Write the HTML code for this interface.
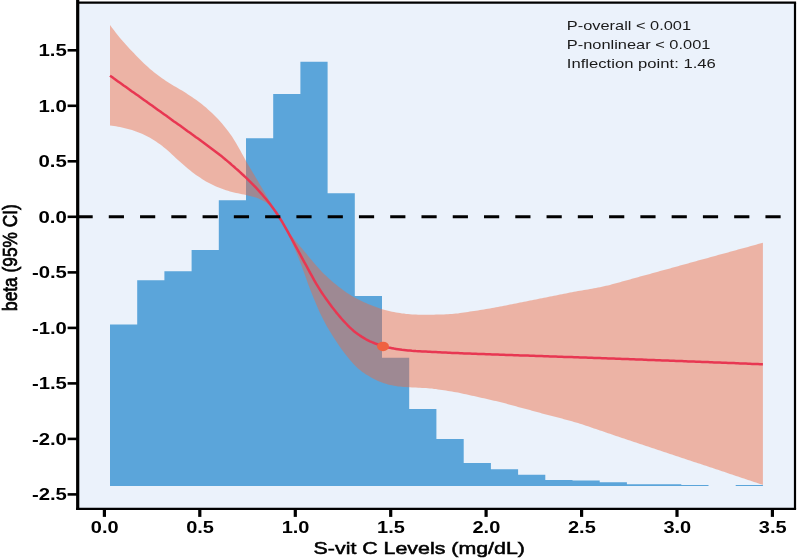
<!DOCTYPE html>
<html lang="en">
<head>
<meta charset="utf-8">
<title>S-vit C Levels vs beta (95% CI)</title>
<style>
html,body{margin:0;padding:0;background:#fff;}
body{width:797px;height:558px;overflow:hidden;}
svg{display:block;will-change:transform;}
</style>
</head>
<body>
<svg width="797" height="558" viewBox="0 0 797 558">
<rect x="0" y="0" width="797" height="558" fill="#ffffff"/>
<rect x="77.7" y="2.65" width="717.30" height="506.20" fill="#ebf2fb"/>
<path d="M110.0,485.9 L110.0,324.6 L137.2,324.6 L137.2,280.2 L164.4,280.2 L164.4,271.2 L191.6,271.2 L191.6,250.1 L218.8,250.1 L218.8,200.2 L246.0,200.2 L246.0,138.3 L273.2,138.3 L273.2,93.9 L300.4,93.9 L300.4,61.8 L327.6,61.8 L327.6,193.2 L354.8,193.2 L354.8,296.1 L382.0,296.1 L382.0,357.8 L409.2,357.8 L409.2,408.9 L436.4,408.9 L436.4,439.0 L463.7,439.0 L463.7,462.9 L490.9,462.9 L490.9,469.2 L518.1,469.2 L518.1,474.7 L545.3,474.7 L545.3,480.0 L572.5,480.0 L572.5,480.4 L599.7,480.4 L599.7,482.3 L626.9,482.3 L626.9,484.3 L654.1,484.3 L654.1,484.3 L681.3,484.3 L681.3,485.0 L708.5,485.0 L708.5,485.9 L735.7,485.9 L735.7,484.9 L762.9,484.9 L762.9,485.9 Z" fill="#5ba5da"/>
<polygon points="110.0,25.1 112.0,27.7 114.0,30.3 116.0,32.9 118.0,35.4 120.0,37.9 122.0,40.2 124.0,42.6 126.0,44.8 128.0,47.0 130.0,49.2 132.0,51.3 134.0,53.3 136.0,55.4 138.0,57.4 140.0,59.4 142.0,61.4 144.0,63.4 146.0,65.3 148.0,67.1 150.0,68.9 152.0,70.6 154.0,72.2 156.0,73.8 158.0,75.3 160.0,76.7 162.0,78.2 164.0,79.5 166.0,80.9 168.0,82.2 170.0,83.5 172.0,84.7 174.0,85.9 176.0,87.1 178.0,88.2 180.0,89.4 182.0,90.6 184.0,91.8 186.0,93.1 188.0,94.4 190.0,95.7 192.0,97.0 194.0,98.4 196.0,99.8 198.0,101.3 200.0,102.8 202.0,104.3 204.0,105.9 206.0,107.6 208.0,109.4 210.0,111.2 212.0,113.0 214.0,115.0 216.0,117.0 218.0,119.1 220.0,121.3 222.0,123.5 224.0,125.9 226.0,128.4 228.0,131.0 230.0,133.7 232.0,136.6 234.0,139.7 236.0,143.0 238.0,146.5 240.0,150.1 242.0,153.7 244.0,157.3 246.0,160.9 248.0,164.4 250.0,167.8 252.0,171.2 254.0,174.6 256.0,177.9 258.0,181.3 260.0,184.7 262.0,188.1 264.0,191.6 266.0,195.0 268.0,198.4 270.0,201.8 272.0,205.0 274.0,208.2 276.0,211.4 278.0,214.6 280.0,217.9 282.0,221.2 284.0,224.5 286.0,227.7 288.0,230.8 290.0,233.7 292.0,236.4 294.0,239.0 296.0,241.4 298.0,243.8 300.0,246.2 302.0,248.5 304.0,250.9 306.0,253.3 308.0,255.8 310.0,258.2 312.0,260.6 314.0,262.9 316.0,265.3 318.0,267.6 320.0,269.8 322.0,271.9 324.0,273.9 326.0,275.8 328.0,277.7 330.0,279.5 332.0,281.2 334.0,282.9 336.0,284.6 338.0,286.2 340.0,287.8 342.0,289.3 344.0,290.8 346.0,292.2 348.0,293.5 350.0,294.8 352.0,296.0 354.0,297.2 356.0,298.3 358.0,299.3 360.0,300.3 362.0,301.3 364.0,302.2 366.0,303.1 368.0,303.9 370.0,304.7 372.0,305.5 374.0,306.3 376.0,307.1 378.0,307.8 380.0,308.5 382.0,309.2 384.0,309.8 386.0,310.3 388.0,310.8 390.0,311.2 392.0,311.7 394.0,312.0 396.0,312.4 398.0,312.7 400.0,313.0 402.0,313.4 404.0,313.6 406.0,313.9 408.0,314.1 410.0,314.3 412.0,314.4 414.0,314.5 416.0,314.6 418.0,314.7 420.0,314.7 422.0,314.8 424.0,314.8 426.0,314.8 428.0,314.8 430.0,314.8 432.0,314.7 434.0,314.7 436.0,314.6 438.0,314.6 440.0,314.5 442.0,314.4 444.0,314.4 446.0,314.3 448.0,314.2 450.0,314.1 452.0,313.9 454.0,313.8 456.0,313.6 458.0,313.4 460.0,313.1 462.0,312.8 464.0,312.6 466.0,312.3 468.0,311.9 470.0,311.6 472.0,311.3 474.0,311.0 476.0,310.7 478.0,310.4 480.0,310.1 482.0,309.7 484.0,309.4 486.0,309.1 488.0,308.7 490.0,308.4 492.0,308.0 494.0,307.7 496.0,307.3 498.0,306.9 500.0,306.6 502.0,306.2 504.0,305.8 506.0,305.4 508.0,305.0 510.0,304.6 512.0,304.2 514.0,303.8 516.0,303.4 518.0,303.0 520.0,302.6 522.0,302.2 524.0,301.8 526.0,301.4 528.0,301.0 530.0,300.6 532.0,300.2 534.0,299.8 536.0,299.4 538.0,299.0 540.0,298.6 542.0,298.2 544.0,297.8 546.0,297.4 548.0,297.0 550.0,296.6 552.0,296.2 554.0,295.8 556.0,295.4 558.0,295.0 560.0,294.6 562.0,294.2 564.0,293.8 566.0,293.4 568.0,293.0 570.0,292.6 572.0,292.2 574.0,291.8 576.0,291.5 578.0,291.1 580.0,290.7 582.0,290.4 584.0,290.1 586.0,289.7 588.0,289.4 590.0,289.0 592.0,288.7 594.0,288.3 596.0,288.0 598.0,287.6 600.0,287.2 602.0,286.7 604.0,286.3 606.0,285.8 608.0,285.4 610.0,284.9 612.0,284.3 614.0,283.8 616.0,283.3 618.0,282.7 620.0,282.2 622.0,281.6 624.0,281.1 626.0,280.5 628.0,279.9 630.0,279.4 632.0,278.8 634.0,278.3 636.0,277.7 638.0,277.2 640.0,276.6 642.0,276.1 644.0,275.5 646.0,275.0 648.0,274.4 650.0,273.9 652.0,273.3 654.0,272.8 656.0,272.2 658.0,271.7 660.0,271.1 662.0,270.6 664.0,270.0 666.0,269.5 668.0,268.9 670.0,268.4 672.0,267.8 674.0,267.3 676.0,266.7 678.0,266.2 680.0,265.6 682.0,265.1 684.0,264.5 686.0,263.9 688.0,263.4 690.0,262.8 692.0,262.3 694.0,261.7 696.0,261.2 698.0,260.6 700.0,260.1 702.0,259.5 704.0,259.0 706.0,258.4 708.0,257.9 710.0,257.3 712.0,256.8 714.0,256.2 716.0,255.7 718.0,255.1 720.0,254.6 722.0,254.0 724.0,253.5 726.0,252.9 728.0,252.4 730.0,251.8 732.0,251.3 734.0,250.7 736.0,250.2 738.0,249.6 740.0,249.1 742.0,248.5 744.0,248.0 746.0,247.4 748.0,246.9 750.0,246.3 752.0,245.8 754.0,245.2 756.0,244.7 758.0,244.1 760.0,243.6 762.0,243.0 762.9,242.8 762.9,484.9 762.0,484.6 760.0,483.9 758.0,483.3 756.0,482.6 754.0,481.9 752.0,481.3 750.0,480.6 748.0,479.9 746.0,479.3 744.0,478.6 742.0,477.9 740.0,477.2 738.0,476.6 736.0,475.9 734.0,475.2 732.0,474.5 730.0,473.9 728.0,473.2 726.0,472.5 724.0,471.8 722.0,471.2 720.0,470.5 718.0,469.8 716.0,469.2 714.0,468.5 712.0,467.8 710.0,467.2 708.0,466.5 706.0,465.8 704.0,465.2 702.0,464.5 700.0,463.8 698.0,463.2 696.0,462.5 694.0,461.9 692.0,461.2 690.0,460.5 688.0,459.9 686.0,459.2 684.0,458.5 682.0,457.9 680.0,457.2 678.0,456.5 676.0,455.9 674.0,455.2 672.0,454.5 670.0,453.9 668.0,453.2 666.0,452.5 664.0,451.9 662.0,451.2 660.0,450.5 658.0,449.9 656.0,449.2 654.0,448.5 652.0,447.9 650.0,447.2 648.0,446.5 646.0,445.9 644.0,445.2 642.0,444.5 640.0,443.9 638.0,443.2 636.0,442.6 634.0,441.9 632.0,441.2 630.0,440.6 628.0,439.9 626.0,439.3 624.0,438.6 622.0,437.9 620.0,437.2 618.0,436.6 616.0,435.9 614.0,435.2 612.0,434.5 610.0,433.8 608.0,433.2 606.0,432.5 604.0,431.8 602.0,431.1 600.0,430.4 598.0,429.7 596.0,429.0 594.0,428.4 592.0,427.7 590.0,427.0 588.0,426.3 586.0,425.7 584.0,425.0 582.0,424.3 580.0,423.7 578.0,423.1 576.0,422.5 574.0,421.9 572.0,421.3 570.0,420.8 568.0,420.2 566.0,419.7 564.0,419.2 562.0,418.6 560.0,418.1 558.0,417.6 556.0,417.1 554.0,416.6 552.0,416.1 550.0,415.5 548.0,415.0 546.0,414.5 544.0,413.9 542.0,413.4 540.0,412.8 538.0,412.3 536.0,411.7 534.0,411.2 532.0,410.7 530.0,410.1 528.0,409.6 526.0,409.0 524.0,408.5 522.0,408.0 520.0,407.4 518.0,406.9 516.0,406.3 514.0,405.8 512.0,405.2 510.0,404.7 508.0,404.2 506.0,403.6 504.0,403.1 502.0,402.6 500.0,402.1 498.0,401.6 496.0,401.1 494.0,400.7 492.0,400.2 490.0,399.7 488.0,399.2 486.0,398.8 484.0,398.3 482.0,397.9 480.0,397.4 478.0,397.0 476.0,396.6 474.0,396.1 472.0,395.7 470.0,395.2 468.0,394.8 466.0,394.3 464.0,393.9 462.0,393.5 460.0,393.0 458.0,392.6 456.0,392.2 454.0,391.9 452.0,391.5 450.0,391.2 448.0,390.9 446.0,390.5 444.0,390.2 442.0,389.9 440.0,389.7 438.0,389.4 436.0,389.1 434.0,388.9 432.0,388.6 430.0,388.4 428.0,388.3 426.0,388.1 424.0,388.0 422.0,387.9 420.0,387.8 418.0,387.7 416.0,387.6 414.0,387.5 412.0,387.4 410.0,387.3 408.0,387.2 406.0,387.1 404.0,386.9 402.0,386.8 400.0,386.6 398.0,386.4 396.0,386.1 394.0,385.7 392.0,385.3 390.0,384.9 388.0,384.4 386.0,383.8 384.0,383.2 382.0,382.5 380.0,381.8 378.0,380.9 376.0,379.9 374.0,378.9 372.0,377.9 370.0,376.8 368.0,375.6 366.0,374.4 364.0,373.1 362.0,371.7 360.0,370.1 358.0,368.4 356.0,366.5 354.0,364.4 352.0,362.3 350.0,360.0 348.0,357.5 346.0,355.0 344.0,352.4 342.0,349.7 340.0,346.9 338.0,344.0 336.0,341.0 334.0,338.0 332.0,334.8 330.0,331.5 328.0,328.2 326.0,324.7 324.0,321.1 322.0,317.1 320.0,312.9 318.0,308.4 316.0,303.7 314.0,298.9 312.0,294.1 310.0,289.0 308.0,283.7 306.0,278.1 304.0,272.4 302.0,266.9 300.0,261.7 298.0,256.7 296.0,251.8 294.0,247.2 292.0,242.7 290.0,238.3 288.0,234.2 286.0,230.2 284.0,226.3 282.0,222.6 280.0,219.1 278.0,215.7 276.0,212.6 274.0,209.9 272.0,207.5 270.0,205.6 268.0,204.0 266.0,202.6 264.0,201.3 262.0,200.2 260.0,199.2 258.0,198.3 256.0,197.6 254.0,197.0 252.0,196.4 250.0,195.9 248.0,195.5 246.0,195.0 244.0,194.6 242.0,194.2 240.0,193.7 238.0,193.3 236.0,192.9 234.0,192.4 232.0,191.9 230.0,191.4 228.0,190.8 226.0,190.2 224.0,189.5 222.0,188.8 220.0,188.1 218.0,187.3 216.0,186.4 214.0,185.5 212.0,184.6 210.0,183.6 208.0,182.5 206.0,181.4 204.0,180.2 202.0,178.9 200.0,177.6 198.0,176.3 196.0,174.9 194.0,173.4 192.0,171.9 190.0,170.3 188.0,168.7 186.0,167.0 184.0,165.2 182.0,163.5 180.0,161.7 178.0,160.0 176.0,158.2 174.0,156.3 172.0,154.5 170.0,152.6 168.0,150.8 166.0,149.0 164.0,147.4 162.0,145.8 160.0,144.3 158.0,142.9 156.0,141.5 154.0,140.2 152.0,139.0 150.0,137.8 148.0,136.7 146.0,135.7 144.0,134.7 142.0,133.8 140.0,133.0 138.0,132.2 136.0,131.4 134.0,130.7 132.0,130.0 130.0,129.4 128.0,128.9 126.0,128.4 124.0,127.9 122.0,127.5 120.0,127.1 118.0,126.7 116.0,126.3 114.0,126.0 112.0,125.8 110.0,125.5" fill="rgb(237,105,64)" fill-opacity="0.46"/>
<polyline points="110.0,75.7 112.0,77.1 114.0,78.6 116.0,80.0 118.0,81.4 120.0,82.8 122.0,84.2 124.0,85.7 126.0,87.1 128.0,88.5 130.0,89.9 132.0,91.4 134.0,92.8 136.0,94.2 138.0,95.6 140.0,97.1 142.0,98.5 144.0,99.9 146.0,101.3 148.0,102.8 150.0,104.2 152.0,105.6 154.0,107.1 156.0,108.5 158.0,109.9 160.0,111.3 162.0,112.8 164.0,114.2 166.0,115.6 168.0,117.1 170.0,118.5 172.0,119.9 174.0,121.4 176.0,122.8 178.0,124.2 180.0,125.6 182.0,127.1 184.0,128.5 186.0,129.9 188.0,131.4 190.0,132.8 192.0,134.3 194.0,135.7 196.0,137.2 198.0,138.6 200.0,140.1 202.0,141.6 204.0,143.0 206.0,144.5 208.0,146.0 210.0,147.5 212.0,149.0 214.0,150.5 216.0,152.0 218.0,153.5 220.0,155.1 222.0,156.6 224.0,158.3 226.0,159.9 228.0,161.6 230.0,163.3 232.0,165.1 234.0,166.8 236.0,168.6 238.0,170.3 240.0,172.1 242.0,174.0 244.0,175.8 246.0,177.7 248.0,179.6 250.0,181.6 252.0,183.6 254.0,185.6 256.0,187.7 258.0,189.9 260.0,192.1 262.0,194.3 264.0,196.7 266.0,199.0 268.0,201.5 270.0,204.1 272.0,206.7 274.0,209.5 276.0,212.3 278.0,215.3 280.0,218.5 282.0,221.7 284.0,225.1 286.0,228.6 288.0,232.2 290.0,235.8 292.0,239.4 294.0,243.1 296.0,246.8 298.0,250.5 300.0,254.2 302.0,257.9 304.0,261.6 306.0,265.2 308.0,268.9 310.0,272.6 312.0,276.2 314.0,279.9 316.0,283.4 318.0,286.7 320.0,289.9 322.0,293.0 324.0,295.9 326.0,298.8 328.0,301.6 330.0,304.3 332.0,307.0 334.0,309.5 336.0,312.1 338.0,314.5 340.0,316.9 342.0,319.2 344.0,321.4 346.0,323.5 348.0,325.6 350.0,327.6 352.0,329.4 354.0,331.2 356.0,332.8 358.0,334.2 360.0,335.6 362.0,336.9 364.0,338.1 366.0,339.3 368.0,340.3 370.0,341.3 372.0,342.2 374.0,343.0 376.0,343.8 378.0,344.5 380.0,345.2 382.0,345.8 384.0,346.4 386.0,346.9 388.0,347.4 390.0,347.8 392.0,348.2 394.0,348.6 396.0,348.9 398.0,349.2 400.0,349.5 402.0,349.8 404.0,350.0 406.0,350.2 408.0,350.4 410.0,350.6 412.0,350.8 414.0,350.9 416.0,351.1 418.0,351.2 420.0,351.3 422.0,351.4 424.0,351.5 426.0,351.6 428.0,351.7 430.0,351.8 432.0,351.9 434.0,352.0 436.0,352.1 438.0,352.2 440.0,352.3 442.0,352.4 444.0,352.5 446.0,352.6 448.0,352.7 450.0,352.8 452.0,352.9 454.0,353.0 456.0,353.1 458.0,353.1 460.0,353.2 462.0,353.3 464.0,353.4 466.0,353.5 468.0,353.5 470.0,353.6 472.0,353.7 474.0,353.8 476.0,353.8 478.0,353.9 480.0,354.0 482.0,354.0 484.0,354.1 486.0,354.2 488.0,354.3 490.0,354.3 492.0,354.4 494.0,354.5 496.0,354.5 498.0,354.6 500.0,354.7 502.0,354.8 504.0,354.8 506.0,354.9 508.0,355.0 510.0,355.0 512.0,355.1 514.0,355.2 516.0,355.2 518.0,355.3 520.0,355.4 522.0,355.4 524.0,355.5 526.0,355.6 528.0,355.6 530.0,355.7 532.0,355.8 534.0,355.8 536.0,355.9 538.0,356.0 540.0,356.0 542.0,356.1 544.0,356.2 546.0,356.2 548.0,356.3 550.0,356.4 552.0,356.4 554.0,356.5 556.0,356.6 558.0,356.7 560.0,356.7 562.0,356.8 564.0,356.9 566.0,356.9 568.0,357.0 570.0,357.1 572.0,357.1 574.0,357.2 576.0,357.3 578.0,357.3 580.0,357.4 582.0,357.5 584.0,357.5 586.0,357.6 588.0,357.7 590.0,357.8 592.0,357.8 594.0,357.9 596.0,358.0 598.0,358.0 600.0,358.1 602.0,358.2 604.0,358.3 606.0,358.3 608.0,358.4 610.0,358.5 612.0,358.5 614.0,358.6 616.0,358.7 618.0,358.8 620.0,358.8 622.0,358.9 624.0,359.0 626.0,359.0 628.0,359.1 630.0,359.2 632.0,359.3 634.0,359.3 636.0,359.4 638.0,359.5 640.0,359.6 642.0,359.6 644.0,359.7 646.0,359.8 648.0,359.9 650.0,359.9 652.0,360.0 654.0,360.1 656.0,360.2 658.0,360.2 660.0,360.3 662.0,360.4 664.0,360.4 666.0,360.5 668.0,360.6 670.0,360.7 672.0,360.7 674.0,360.8 676.0,360.9 678.0,361.0 680.0,361.1 682.0,361.1 684.0,361.2 686.0,361.3 688.0,361.4 690.0,361.4 692.0,361.5 694.0,361.6 696.0,361.7 698.0,361.7 700.0,361.8 702.0,361.9 704.0,362.0 706.0,362.0 708.0,362.1 710.0,362.2 712.0,362.3 714.0,362.4 716.0,362.4 718.0,362.5 720.0,362.6 722.0,362.7 724.0,362.7 726.0,362.8 728.0,362.9 730.0,363.0 732.0,363.1 734.0,363.1 736.0,363.2 738.0,363.3 740.0,363.4 742.0,363.5 744.0,363.5 746.0,363.6 748.0,363.7 750.0,363.8 752.0,363.9 754.0,363.9 756.0,364.0 758.0,364.1 760.0,364.2 762.0,364.3 762.9,364.3" fill="none" stroke="#e83752" stroke-width="2.5" stroke-linejoin="round"/>
<ellipse cx="383" cy="346.4" rx="6" ry="4.75" fill="#ef6140"/>
<line x1="77.5" y1="216.85" x2="795.0" y2="216.85" stroke="#000" stroke-width="3" stroke-dasharray="15.2 16.07"/>
<g stroke="#000" fill="none">
<line x1="77.7" y1="0" x2="77.7" y2="510.05" stroke-width="3.2"/>
<line x1="76.10000000000001" y1="508.85" x2="796.1" y2="508.85" stroke-width="2.4"/>
<line x1="77.7" y1="2.65" x2="796.1" y2="2.65" stroke-width="2.2"/>
<line x1="795.0" y1="2.65" x2="795.0" y2="508.85" stroke-width="2.2"/>
<line x1="67.6" y1="50.3" x2="77.7" y2="50.3" stroke-width="2.6"/>
<line x1="67.6" y1="105.8" x2="77.7" y2="105.8" stroke-width="2.6"/>
<line x1="67.6" y1="161.3" x2="77.7" y2="161.3" stroke-width="2.6"/>
<line x1="67.6" y1="216.8" x2="77.7" y2="216.8" stroke-width="2.6"/>
<line x1="67.6" y1="272.4" x2="77.7" y2="272.4" stroke-width="2.6"/>
<line x1="67.6" y1="327.9" x2="77.7" y2="327.9" stroke-width="2.6"/>
<line x1="67.6" y1="383.4" x2="77.7" y2="383.4" stroke-width="2.6"/>
<line x1="67.6" y1="438.9" x2="77.7" y2="438.9" stroke-width="2.6"/>
<line x1="67.6" y1="494.4" x2="77.7" y2="494.4" stroke-width="2.6"/>
<line x1="104.4" y1="508.85" x2="104.4" y2="516.9" stroke-width="3.2"/>
<line x1="199.8" y1="508.85" x2="199.8" y2="516.9" stroke-width="3.2"/>
<line x1="295.3" y1="508.85" x2="295.3" y2="516.9" stroke-width="3.2"/>
<line x1="390.7" y1="508.85" x2="390.7" y2="516.9" stroke-width="3.2"/>
<line x1="486.1" y1="508.85" x2="486.1" y2="516.9" stroke-width="3.2"/>
<line x1="581.6" y1="508.85" x2="581.6" y2="516.9" stroke-width="3.2"/>
<line x1="677.0" y1="508.85" x2="677.0" y2="516.9" stroke-width="3.2"/>
<line x1="772.4" y1="508.85" x2="772.4" y2="516.9" stroke-width="3.2"/>
</g>
<g font-family="'Liberation Sans', Arial, Helvetica, sans-serif" font-weight="bold" font-size="15.6" fill="#000">
<text x="66.9" y="56.1" text-anchor="end" textLength="28.4" lengthAdjust="spacingAndGlyphs">1.5</text>
<text x="66.9" y="111.6" text-anchor="end" textLength="28.4" lengthAdjust="spacingAndGlyphs">1.0</text>
<text x="66.9" y="167.1" text-anchor="end" textLength="28.4" lengthAdjust="spacingAndGlyphs">0.5</text>
<text x="66.9" y="222.7" text-anchor="end" textLength="28.4" lengthAdjust="spacingAndGlyphs">0.0</text>
<text x="66.9" y="278.2" text-anchor="end" textLength="35.0" lengthAdjust="spacingAndGlyphs">-0.5</text>
<text x="66.9" y="333.7" text-anchor="end" textLength="35.0" lengthAdjust="spacingAndGlyphs">-1.0</text>
<text x="66.9" y="389.2" text-anchor="end" textLength="35.0" lengthAdjust="spacingAndGlyphs">-1.5</text>
<text x="66.9" y="444.7" text-anchor="end" textLength="35.0" lengthAdjust="spacingAndGlyphs">-2.0</text>
<text x="66.9" y="500.2" text-anchor="end" textLength="35.0" lengthAdjust="spacingAndGlyphs">-2.5</text>
<text x="104.7" y="532.8" text-anchor="middle" textLength="27.8" lengthAdjust="spacingAndGlyphs">0.0</text>
<text x="200.1" y="532.8" text-anchor="middle" textLength="27.8" lengthAdjust="spacingAndGlyphs">0.5</text>
<text x="295.6" y="532.8" text-anchor="middle" textLength="27.8" lengthAdjust="spacingAndGlyphs">1.0</text>
<text x="391.0" y="532.8" text-anchor="middle" textLength="27.8" lengthAdjust="spacingAndGlyphs">1.5</text>
<text x="486.4" y="532.8" text-anchor="middle" textLength="27.8" lengthAdjust="spacingAndGlyphs">2.0</text>
<text x="581.9" y="532.8" text-anchor="middle" textLength="27.8" lengthAdjust="spacingAndGlyphs">2.5</text>
<text x="677.3" y="532.8" text-anchor="middle" textLength="27.8" lengthAdjust="spacingAndGlyphs">3.0</text>
<text x="772.7" y="532.8" text-anchor="middle" textLength="27.8" lengthAdjust="spacingAndGlyphs">3.5</text>
</g>
<text font-family="'Liberation Sans', Arial, Helvetica, sans-serif" font-size="16.3" fill="#000" stroke="#000" stroke-width="0.5" x="313.6" y="553.8" textLength="211.3" lengthAdjust="spacingAndGlyphs">S-vit C Levels (mg/dL)</text>
<text font-family="'Liberation Sans', Arial, Helvetica, sans-serif" font-size="17" fill="#000" stroke="#000" stroke-width="0.6" transform="translate(17.2,310.9) scale(1.22,1) rotate(-90)" textLength="106.6" lengthAdjust="spacingAndGlyphs">beta (95% CI)</text>
<g font-family="'Liberation Sans', Arial, Helvetica, sans-serif" font-size="13" fill="#1a1a1a">
<text x="566.8" y="29.6" textLength="124.3" lengthAdjust="spacingAndGlyphs">P-overall &lt; 0.001</text>
<text x="566.8" y="48.5" textLength="143.6" lengthAdjust="spacingAndGlyphs">P-nonlinear &lt; 0.001</text>
<text x="566.8" y="67.7" textLength="149.0" lengthAdjust="spacingAndGlyphs">Inflection point: 1.46</text>
</g>
</svg>
</body>
</html>
